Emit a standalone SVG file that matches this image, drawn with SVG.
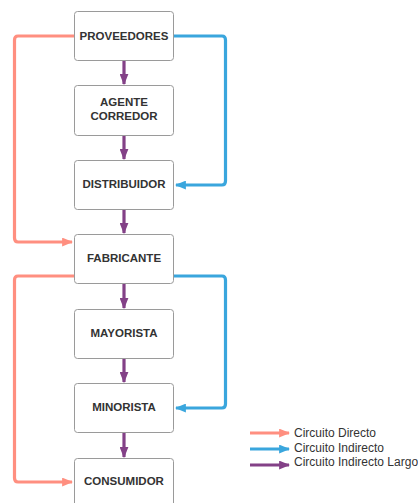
<svg xmlns="http://www.w3.org/2000/svg" width="418" height="503" viewBox="0 0 418 503">
<style>
.box{fill:#fff;stroke:#9a9a9a;stroke-width:1}
.lbl{font-family:"Liberation Sans",Arial,sans-serif;font-weight:bold;font-size:11.5px;fill:#333;text-anchor:middle}
.leg{font-family:"Liberation Sans",Arial,sans-serif;font-size:12px;fill:#333}
.c{fill:none;stroke-width:3.2;stroke-linejoin:round}
.red{stroke:#FF8F80}
.blue{stroke:#3AA6DD}
.pur{stroke:#834187}
</style>
<defs>
<marker id="aR" viewBox="0 0 10 8" refX="9" refY="4" markerWidth="11" markerHeight="9" markerUnits="userSpaceOnUse" orient="auto"><path d="M0,0L10,4L0,8z" fill="#FF8F80"/></marker>
<marker id="aB" viewBox="0 0 10 8" refX="9" refY="4" markerWidth="11" markerHeight="9" markerUnits="userSpaceOnUse" orient="auto"><path d="M0,0L10,4L0,8z" fill="#3AA6DD"/></marker>
<marker id="aP" viewBox="0 0 10 8" refX="9" refY="4" markerWidth="11" markerHeight="9" markerUnits="userSpaceOnUse" orient="auto"><path d="M0,0L10,4L0,8z" fill="#834187"/></marker>
</defs>
<rect width="418" height="503" fill="#fff"/>
<g id="connectors">
<path class="c red" d="M74,36H18Q14.5,36 14.5,40V238Q14.5,242 18,242H72" marker-end="url(#aR)"/>
<path class="c red" d="M74,276H18Q14.5,276 14.5,280V478Q14.5,482 18,482H72" marker-end="url(#aR)"/>
<path class="c blue" d="M174,36H222Q225.5,36 225.5,40V181Q225.5,185 222,185H176" marker-end="url(#aB)"/>
<path class="c blue" d="M174,276H222Q225.5,276 225.5,280V404Q225.5,408 222,408H176" marker-end="url(#aB)"/>
<path class="c pur" d="M124,61V84" marker-end="url(#aP)"/>
<path class="c pur" d="M124,135V159" marker-end="url(#aP)"/>
<path class="c pur" d="M124,210V233" marker-end="url(#aP)"/>
<path class="c pur" d="M124,284V308" marker-end="url(#aP)"/>
<path class="c pur" d="M124,359V382" marker-end="url(#aP)"/>
<path class="c pur" d="M124,433V457" marker-end="url(#aP)"/>
</g>
<g id="proveedores"><rect class="box" x="74.5" y="11.5" width="99" height="49" rx="3"/><text class="lbl" x="124" y="40">PROVEEDORES</text></g>
<g id="agente"><rect class="box" x="74.5" y="85.5" width="99" height="50" rx="3"/><text class="lbl" x="124" y="106">AGENTE</text><text class="lbl" x="124" y="120">CORREDOR</text></g>
<g id="distribuidor"><rect class="box" x="74.5" y="160.5" width="99" height="49" rx="3"/><text class="lbl" x="124" y="188">DISTRIBUIDOR</text></g>
<g id="fabricante"><rect class="box" x="74.5" y="234.5" width="99" height="49" rx="3"/><text class="lbl" x="124" y="262">FABRICANTE</text></g>
<g id="mayorista"><rect class="box" x="74.5" y="309.5" width="99" height="49" rx="3"/><text class="lbl" x="124" y="337">MAYORISTA</text></g>
<g id="minorista"><rect class="box" x="74.5" y="383.5" width="99" height="49" rx="3"/><text class="lbl" x="124" y="411">MINORISTA</text></g>
<g id="consumidor"><rect class="box" x="74.5" y="458.5" width="99" height="49" rx="3"/><text class="lbl" x="124" y="485">CONSUMIDOR</text></g>
<g id="legend">
<path class="c red" d="M250,433H289" marker-end="url(#aR)"/>
<path class="c blue" d="M250,449H289" marker-end="url(#aB)"/>
<path class="c pur" d="M250,465H289" marker-end="url(#aP)"/>
<text class="leg" x="294" y="437">Circuito Directo</text>
<text class="leg" x="294" y="452">Circuito Indirecto</text>
<text class="leg" x="294" y="466">Circuito Indirecto Largo</text>
</g>
</svg>
